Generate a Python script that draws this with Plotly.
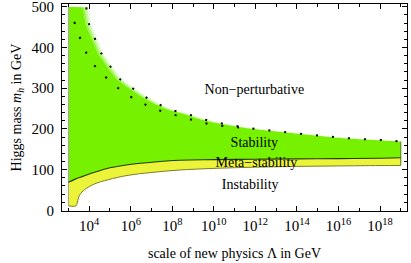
import numpy as np
import plotly.graph_objects as go

# ---- data (x given as log10 of Lambda in GeV, y = Higgs mass in GeV) ----
upper_logL = [3.0, 3.86, 4.0, 4.29, 4.58, 5.01, 5.45, 6.03, 6.66, 7.29, 7.96, 8.69,
              9.41, 10.14, 10.86, 11.6, 12.4, 13.1, 13.8, 14.53, 15.26, 15.98, 16.8,
              17.53, 18.25, 19.0]
upper_mh = [500, 499, 456, 420, 386, 354, 324, 302, 280, 262, 247, 237,
            225, 216, 209, 203, 198, 194, 190, 186, 183, 179, 176,
            174, 172, 169]

dot2_logL = [3.28, 3.52, 3.81, 4.19, 4.68, 5.26, 5.84, 6.5, 7.14, 7.86, 8.59, 9.31,
             10.04, 10.8, 11.6]
dot2_mh = [463, 429, 392, 360, 333, 306, 284, 265, 250, 238, 228, 217,
           210, 205, 203]

stab_logL = [3.0, 3.3, 3.61, 4.26, 5.06, 5.87, 6.8, 8.35, 10.0, 12.0, 14.0, 16.0, 18.0, 19.0]
stab_mh = [69, 76, 82, 93.5, 105, 112, 117, 123, 124.5, 125.5, 126.5, 127, 128, 129]

meta_logL = [3.0, 3.36, 3.45, 3.53, 3.65, 3.77, 4.01, 4.26, 4.9, 5.87, 7.0, 8.35,
             10.0, 12.0, 14.0, 16.0, 18.0, 19.0]
meta_mh = [11, 11, 24, 37, 45, 50.5, 58.5, 65, 75, 86, 93, 99,
           103, 106, 108, 109, 110, 110]

xtick_exp = [4, 6, 8, 10, 12, 14, 16, 18]
xminor_exp = [3, 5, 7, 9, 11, 13, 15, 17, 19]
ytick_vals = [0, 100, 200, 300, 400, 500]

region_labels = ["Non\u2212perturbative", "Stability", "Meta\u2212stability", "Instability"]
region_logL = [11.95, 11.95, 12.05, 11.75]
region_mh = [294, 164, 116, 61]

GREEN = "#76f200"
YELLOW = "#ecf43a"
FONT = "Liberation Serif"

X_RANGE = [2.69, 19.3]
PX_PER_DECADE = 20.77

def lam(v):
    return [10.0 ** e for e in v]

fig = go.Figure()

# yellow band (meta-stability)
fig.add_trace(go.Scatter(x=lam(meta_logL), y=meta_mh, mode="lines",
                         line=dict(width=0, shape="spline"), hoverinfo="skip",
                         showlegend=False))
fig.add_trace(go.Scatter(x=lam(stab_logL), y=stab_mh, mode="lines", fill="tonexty",
                         fillcolor=YELLOW, line=dict(width=0, shape="spline"),
                         hoverinfo="skip", showlegend=False))

# green band with a horizontal fade at its upper edge
shifts_px = [3.5, 2.0, 0.5, -1.0, -2.5]
colors = [GREEN, "#90f43c", "#b0f775", "#d2faae", "#eefde2"]
lo, hi = upper_logL[0], upper_logL[-1]
for s, c in zip(shifts_px, colors):
    xs = np.clip(np.array(upper_logL) - s / PX_PER_DECADE, lo, hi)
    ys = list(upper_mh)
    xs = list(xs)
    if xs[-1] < hi:
        xs.append(hi)
        ys.append(upper_mh[-1])
    fig.add_trace(go.Scatter(x=lam(xs), y=ys, mode="lines", fill="tonexty",
                             fillcolor=c, line=dict(width=0, shape="linear"),
                             hoverinfo="skip", showlegend=False))

# edges
fig.add_trace(go.Scatter(x=lam([lo, lo]), y=[meta_mh[0], upper_mh[0]], mode="lines",
                         line=dict(color="#a0a0a0", width=1), hoverinfo="skip",
                         showlegend=False))
fig.add_trace(go.Scatter(x=lam([hi, hi]), y=[meta_mh[-1], upper_mh[-1]], mode="lines",
                         line=dict(color="#4f7a10", width=1), hoverinfo="skip",
                         showlegend=False))
fig.add_trace(go.Scatter(x=lam(meta_logL), y=meta_mh, mode="lines",
                         line=dict(color="#7d7d28", width=1, shape="spline"),
                         hoverinfo="skip", showlegend=False))
fig.add_trace(go.Scatter(x=lam(stab_logL), y=stab_mh, mode="lines",
                         line=dict(color="#24380a", width=1.1, shape="spline"),
                         hoverinfo="skip", showlegend=False))

# dotted lines
fig.add_trace(go.Scatter(x=lam(upper_logL[1:]), y=upper_mh[1:], mode="lines",
                         line=dict(color="black", width=2, dash="2px,14px", shape="spline"),
                         hoverinfo="skip", showlegend=False))
fig.add_trace(go.Scatter(x=lam(dot2_logL), y=dot2_mh, mode="lines",
                         line=dict(color="black", width=2, dash="2px,14px", shape="spline"),
                         hoverinfo="skip", showlegend=False))

# region labels
fig.add_trace(go.Scatter(x=lam(region_logL), y=region_mh, mode="text",
                         text=region_labels, textposition="middle center",
                         textfont=dict(family=FONT, size=14, color="black"),
                         hoverinfo="skip", showlegend=False))

axis_common = dict(showline=True, linecolor="black", linewidth=1, mirror="ticks",
                   ticks="inside", ticklen=5, tickcolor="black", tickwidth=1,
                   showgrid=False, zeroline=False, automargin=False,
                   ticklabeloverflow="allow",
                   tickfont=dict(family=FONT, size=15, color="black"))

fig.update_layout(
    width=411, height=263,
    margin=dict(l=62, r=4, t=4, b=52),
    paper_bgcolor="white", plot_bgcolor="white",
    xaxis=dict(type="log", range=X_RANGE,
               tickvals=lam(xtick_exp),
               ticktext=[f"10<sup>{e}</sup>" for e in xtick_exp],
               minor=dict(tickvals=lam(xminor_exp), ticks="inside", ticklen=3,
                          tickcolor="black"),
               title=dict(text="scale of new physics \u039b in GeV",
                          font=dict(family=FONT, size=14, color="black"), standoff=15),
               ticklabelstandoff=1,
               **axis_common),
    yaxis=dict(range=[-1.7, 507], tickvals=ytick_vals,
               minor=dict(dtick=20, ticks="inside", ticklen=3, tickcolor="black"),
               title=dict(text="Higgs mass <i>m<sub>h</sub></i> in GeV",
                          font=dict(family=FONT, size=14, color="black"), standoff=6),
               ticklabelstandoff=4,
               **axis_common),
)

fig.write_html("out.html",
               config={"displayModeBar": False},
               post_script="document.body.style.margin='0px';document.body.style.padding='0px';")
